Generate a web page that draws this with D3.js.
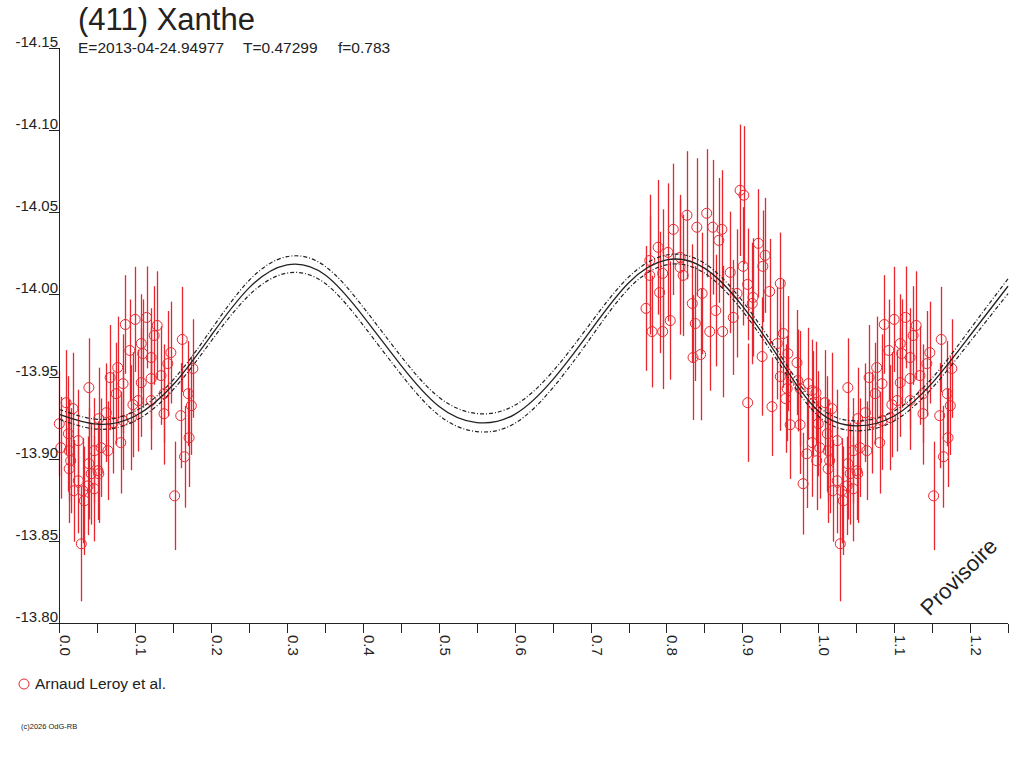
<!DOCTYPE html>
<html>
<head>
<meta charset="utf-8">
<script src="https://cdn.jsdelivr.net/npm/d3@7"></script>
<style>
  body { margin: 0; background: #fff; }
  text { font-family: "Liberation Sans", Arial, sans-serif; fill: #222; }
</style>
</head>
<body>
<script>
// observations (phase folded into [0,1)), reduced magnitude and error
var obsPhase = [
  0.773, 0.778, 0.778, 0.781, 0.789, 0.791, 0.795, 0.795, 0.802, 0.805,
  0.809, 0.818, 0.818, 0.822, 0.827, 0.834, 0.835, 0.838, 0.840, 0.845,
  0.847, 0.853, 0.857, 0.861, 0.865, 0.869, 0.873, 0.874, 0.884, 0.888,
  0.893, 0.897, 0.901, 0.902, 0.907, 0.913, 0.921, 0.926, 0.930, 0.936,
  0.946, 0.950, 0.954, 0.960, 0.972, 0.927, 0.914, 0.950, 0.973, 0.987,
  0.039, 0.959, 0.976, 0.997, 0.957, 0.009, 0.907, 0.939, 0.018, 0.052,
  0.963, 0.976, 0.000, 0.012, 0.025, 0.985, 0.998, 0.015, 0.039, 0.051,
  0.013, 0.980, 0.025, 0.038, 0.033, 0.019, 0.046, 0.029, 0.992, 0.002,
  0.087, 0.100, 0.115, 0.129, 0.125, 0.162, 0.093, 0.108, 0.110, 0.147,
  0.121, 0.143, 0.077, 0.176, 0.067, 0.084, 0.121, 0.108, 0.134, 0.075,
  0.170, 0.138, 0.104, 0.174, 0.097, 0.121, 0.138, 0.160, 0.062, 0.071,
  0.084, 0.095, 0.171, 0.081, 0.064, 0.046, 0.013, 0.055, 0.165, 0.052,
  0.031, 0.152, 0.042, 0.993, 0.992
];
var obsMag = [
  -13.9915, -14.0207, -14.0116, -13.9774, -14.0287, -14.0012, -14.0128, -13.9774, -14.0256, -13.9841,
  -14.0396, -14.0226, -14.0165, -14.0116, -14.0482, -13.9945, -13.9616, -13.9823, -14.0409, -13.9634,
  -14.0006, -14.0494, -13.9774, -14.0409, -13.9902, -14.0329, -14.0396, -13.9774, -14.0134, -13.9860,
  -14.0006, -14.0634, -14.0171, -14.0604, -14.0061, -13.9945, -14.0311, -13.9622, -14.0238, -14.0018,
  -13.9701, -14.0067, -13.9762, -13.9640, -13.9585, -14.0171, -13.9982, -13.9500, -13.9476, -13.9457,
  -13.9433, -13.9427, -13.9427, -13.9402, -13.9366, -13.9341, -13.9341, -13.9317, -13.9305, -13.9244,
  -13.9207, -13.9207, -13.9213, -13.9152, -13.9110, -13.9030, -13.8988, -13.8988, -13.8970, -13.8927,
  -13.8939, -13.8848, -13.8866, -13.8835, -13.8744, -13.8805, -13.8817, -13.8482, -13.9098, -13.9067,
  -13.9817, -13.9848, -13.9860, -13.9811, -13.9750, -13.9726, -13.9659, -13.9701, -13.9640, -13.9646,
  -13.9616, -13.9579, -13.9555, -13.9549, -13.9494, -13.9457, -13.9488, -13.9463, -13.9506, -13.9396,
  -13.9396, -13.9396, -13.9354, -13.9323, -13.9329, -13.9354, -13.9274, -13.9262, -13.9280, -13.9220,
  -13.9232, -13.9250, -13.9128, -13.9098, -13.9049, -13.9049, -13.9049, -13.9067, -13.9012, -13.8909,
  -13.8805, -13.8774, -13.8909, -13.9335, -13.9415
];
var obsErr = [
  0.038, 0.040, 0.036, 0.034, 0.041, 0.037, 0.039, 0.035, 0.042, 0.036,
  0.040, 0.038, 0.041, 0.037, 0.039, 0.036, 0.038, 0.035, 0.042, 0.040,
  0.037, 0.039, 0.036, 0.041, 0.034, 0.038, 0.036, 0.040, 0.037, 0.035,
  0.039, 0.040, 0.036, 0.042, 0.034, 0.037, 0.033, 0.036, 0.035, 0.032,
  0.034, 0.031, 0.033, 0.035, 0.032, 0.034, 0.036, 0.033, 0.031, 0.034,
  0.030, 0.032, 0.035, 0.031, 0.033, 0.032, 0.036, 0.030, 0.034, 0.031,
  0.033, 0.030, 0.032, 0.035, 0.031, 0.033, 0.030, 0.032, 0.034, 0.030,
  0.033, 0.031, 0.032, 0.030, 0.033, 0.031, 0.032, 0.035, 0.033, 0.031,
  0.030, 0.032, 0.031, 0.033, 0.030, 0.032, 0.031, 0.030, 0.033, 0.031,
  0.030, 0.032, 0.031, 0.030, 0.032, 0.030, 0.031, 0.033, 0.030, 0.031,
  0.032, 0.030, 0.031, 0.030, 0.032, 0.030, 0.031, 0.032, 0.030, 0.031,
  0.030, 0.032, 0.030, 0.031, 0.030, 0.032, 0.031, 0.030, 0.031, 0.030,
  0.032, 0.033, 0.031, 0.032, 0.031
];

// fitted light curve read every 0.05 in phase, with its half-width
var fitPhase = [0.00, 0.05, 0.10, 0.15, 0.20, 0.25, 0.30, 0.35, 0.40, 0.45,
                0.50, 0.55, 0.60, 0.65, 0.70, 0.75, 0.80, 0.85, 0.90, 0.95,
                1.00, 1.05, 1.10, 1.15, 1.20, 1.25];
var fitMag = [-13.927, -13.921, -13.926, -13.945, -13.975, -14.004, -14.018, -14.012, -13.987, -13.957,
              -13.932, -13.922, -13.927, -13.948, -13.978, -14.007, -14.021, -14.016, -13.993, -13.960,
              -13.929, -13.920, -13.926, -13.946, -13.975, -14.005];
var fitSig = [0.0030, 0.0030, 0.0030, 0.0030, 0.0035, 0.0045, 0.0050, 0.0052, 0.0055, 0.0055,
              0.0055, 0.0055, 0.0055, 0.0050, 0.0045, 0.0035, 0.0030, 0.0030, 0.0030, 0.0030,
              0.0030, 0.0030, 0.0030, 0.0030, 0.0038, 0.0045];

var yTicks = [-14.15, -14.10, -14.05, -14.00, -13.95, -13.90, -13.85, -13.80];
var title = "(411) Xanthe";
var subTexts = ["E=2013-04-24.94977", "T=0.47299", "f=0.783"];
var legendLabel = "Arnaud Leroy et al.";
var footer = "(c)2026 OdG-RB";
var stamp = "Provisoire";

var W = 1024, H = 768;
var red = "#e8262e", ink = "#222";

var svg = d3.select("body").append("svg")
  .attr("width", W)
  .attr("height", H);

var x = d3.scaleLinear().domain([0, 1.25]).range([59.3, 1008]);
var y = d3.scaleLinear().domain([-14.15, -13.80]).range([48, 623]);

// observations, each drawn once more one period later when it fits
var pts = [];
obsPhase.forEach(function(p, i) {
  [p, p + 1].forEach(function(q) {
    if (q <= 1.25) pts.push({ p: q, m: obsMag[i], e: obsErr[i] });
  });
});

var obs = svg.append("g");
obs.selectAll("line.err").data(pts).enter().append("line")
  .attr("class", "err")
  .attr("x1", function(d) { return Math.round(x(d.p)) + 0.5; })
  .attr("x2", function(d) { return Math.round(x(d.p)) + 0.5; })
  .attr("y1", function(d) { return y(d.m - d.e); })
  .attr("y2", function(d) { return y(d.m + d.e); })
  .attr("stroke", red)
  .attr("stroke-width", 1.3);
obs.selectAll("circle").data(pts).enter().append("circle")
  .attr("cx", function(d) { return x(d.p); })
  .attr("cy", function(d) { return y(d.m); })
  .attr("r", 5)
  .attr("fill", "none")
  .attr("stroke", red)
  .attr("stroke-width", 1);

// fit curve and its uncertainty envelope
var fit = fitPhase.map(function(p, i) { return { p: p, m: fitMag[i], s: fitSig[i] }; });
var line = function(off) {
  return d3.line()
    .x(function(d) { return x(d.p); })
    .y(function(d) { return y(d.m + off * d.s); })
    .curve(d3.curveNatural);
};
var curves = svg.append("g").attr("fill", "none").attr("stroke", ink);
curves.append("path").attr("d", line(0)(fit)).attr("stroke-width", 1.3);
[-1, 1].forEach(function(o) {
  curves.append("path").attr("d", line(o)(fit))
    .attr("stroke-width", 1.2)
    .attr("stroke-dasharray", "4,2,1,2");
});

// axes
var axes = svg.append("g").attr("stroke", ink).attr("stroke-width", 1).attr("shape-rendering", "crispEdges");
axes.append("line").attr("x1", 59.5).attr("x2", 59.5).attr("y1", y(-14.15)).attr("y2", 633);
axes.append("line").attr("x1", 49).attr("x2", 1008).attr("y1", 623.5).attr("y2", 623.5);

var xMajor = d3.range(0, 13).map(function(i) { return i / 10; });
var xMinor = d3.range(0, 13).map(function(i) { return i / 10 + 0.05; });
axes.selectAll("line.xt").data(xMajor.concat(xMinor)).enter().append("line")
  .attr("x1", function(d) { return Math.round(x(d)) + 0.5; })
  .attr("x2", function(d) { return Math.round(x(d)) + 0.5; })
  .attr("y1", 623.5).attr("y2", 633);
axes.selectAll("line.yt").data(yTicks).enter().append("line")
  .attr("x1", 49).attr("x2", 59.5)
  .attr("y1", function(d) { return Math.round(y(d)) + 0.5; })
  .attr("y2", function(d) { return Math.round(y(d)) + 0.5; });

var fmtY = function(d) { return d.toFixed(2); };
svg.append("g").selectAll("text").data(yTicks).enter().append("text")
  .attr("x", 58).attr("y", function(d) { return y(d) - 1; })
  .attr("text-anchor", "end")
  .attr("font-size", 15)
  .attr("fill", "#333")
  .text(fmtY);

svg.append("g").selectAll("text").data(xMajor).enter().append("text")
  .attr("transform", function(d) { return "translate(" + (x(d) + 1) + ",635) rotate(90)"; })
  .attr("font-size", 15)
  .attr("fill", "#333")
  .text(function(d) { return d.toFixed(1); });

// titles
svg.append("text").attr("x", 78).attr("y", 30).attr("font-size", 31).text(title);
[78, 243, 338].forEach(function(px, i) {
  svg.append("text").attr("x", px).attr("y", 53).attr("font-size", 15.5).attr("fill", "#333").text(subTexts[i]);
});

// legend and footer
svg.append("circle").attr("cx", 24).attr("cy", 684).attr("r", 5)
  .attr("fill", "none").attr("stroke", red);
svg.append("text").attr("x", 35).attr("y", 689).attr("font-size", 15.5).attr("fill", "#333").text(legendLabel);
svg.append("text").attr("x", 21).attr("y", 729).attr("font-size", 7.5).text(footer);

svg.append("text")
  .attr("transform", "translate(960,578) rotate(-45)")
  .attr("text-anchor", "middle")
  .attr("dominant-baseline", "middle")
  .attr("font-size", 22)
  .text(stamp);
</script>
</body>
</html>
